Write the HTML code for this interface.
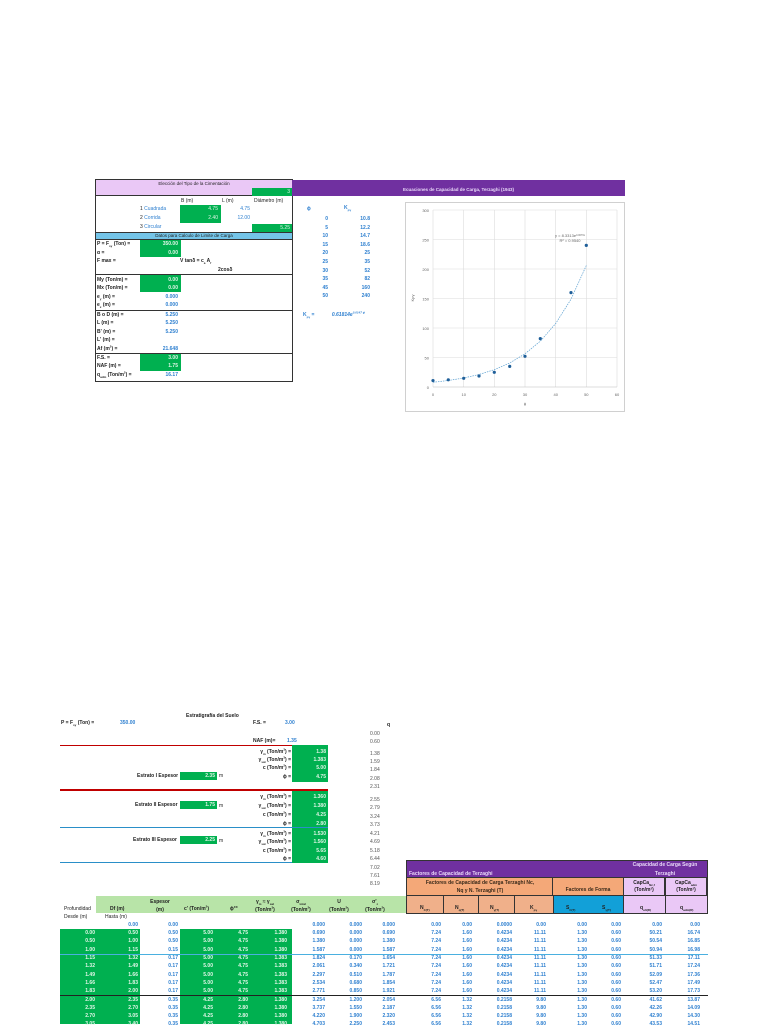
<!DOCTYPE html>
<html><head><meta charset="utf-8"><style>
*{margin:0;padding:0;box-sizing:border-box}
body{width:768px;height:1024px;background:#fff;position:relative;overflow:hidden;font-family:"Liberation Sans",sans-serif;font-size:5px;color:#222}
sub,sup{line-height:0;font-size:3px}
.a{position:absolute;white-space:nowrap}
.g{position:absolute;background:#00b050}
.b{color:#2f80d0;font-weight:bold}
.w{color:#dff5e6}
.k{font-weight:bold}
.r{position:absolute;left:0;width:768px;height:8px;font-weight:bold;color:#2f80d0;font-size:5px}
.r span{position:absolute;width:40px;text-align:right;top:0}
.r .wh{color:#e4f7ea}
.c1{left:55px}.c2{left:98px}.c3{left:138px}.c4{left:173px}.c5{left:208px}.c6{left:247px}.c7{left:285px}.c8{left:322px}.c9{left:355px}
.d1{left:401px}.d2{left:432px}.d3{left:472px}.d4{left:506px}.d5{left:547px}.d6{left:581px}.d7{left:622px}.d8{left:660px}
.ln{position:absolute;height:0}
</style></head><body>

<!-- TOP LEFT BOX -->
<div class="a" style="left:95px;top:179px;width:198px;height:203px;border:1px solid #333"></div>
<div class="a" style="left:96px;top:180px;width:196px;height:16px;background:#eac8f6;border-bottom:1px solid #333"></div>
<div class="a" style="left:95px;top:181px;width:198px;text-align:center;font-size:4.5px">Elección del Tipo de la Cimentación</div>
<div class="g" style="left:252px;top:188px;width:40px;height:8px"></div>
<div class="a w" style="left:252px;top:189px;width:38px;text-align:right">3</div>
<div class="a" style="left:292px;top:180px;width:333px;height:16px;background:#7030a0"></div>
<div class="a k" style="left:292px;top:187px;width:333px;text-align:center;color:#e8d8f8;font-size:4.5px">Ecuaciones de Capacidad de Carga, Terzaghi (1943)</div>

<div class="a" style="left:181px;top:198px">B (m)</div>
<div class="a" style="left:222px;top:198px">L (m)</div>
<div class="a" style="left:254px;top:198px">Diámetro (m)</div>
<div class="a" style="left:140px;top:206px">1 <span style="color:#2f80d0">Cuadrada</span></div>
<div class="a" style="left:140px;top:215px">2 <span style="color:#2f80d0">Corrida</span></div>
<div class="a" style="left:140px;top:224px">3 <span style="color:#2f80d0">Circular</span></div>
<div class="g" style="left:180px;top:205px;width:41px;height:18px"></div>
<div class="a w" style="left:180px;top:206px;width:38px;text-align:right">4.75</div>
<div class="a w" style="left:180px;top:215px;width:38px;text-align:right">2.40</div>
<div class="a" style="left:220px;top:206px;width:30px;text-align:right;color:#2f80d0">4.75</div>
<div class="a" style="left:220px;top:215px;width:30px;text-align:right;color:#2f80d0">12.00</div>
<div class="g" style="left:252px;top:224px;width:40px;height:8px"></div>
<div class="a w" style="left:252px;top:225px;width:38px;text-align:right">5.25</div>
<div class="a" style="left:96px;top:232px;width:196px;height:8px;background:#74c4e8;border-top:1px solid #333;border-bottom:1px solid #333"></div>
<div class="a" style="left:96px;top:233px;width:196px;text-align:center;font-size:4.5px">Datos para Calculo de Limite de Carga</div>

<div class="a k" style="left:97px;top:241px">P = F<sub>sy</sub> (Ton) =</div>
<div class="a k" style="left:97px;top:250px">α =</div>
<div class="a k" style="left:97px;top:258px">F max =</div>
<div class="g" style="left:140px;top:240px;width:41px;height:17px"></div>
<div class="a w k" style="left:140px;top:241px;width:38px;text-align:right">350.00</div>
<div class="a w k" style="left:140px;top:250px;width:38px;text-align:right">0.00</div>
<div class="a k" style="left:180px;top:258px">V tanδ = c<sub>a</sub> A<sub>f</sub></div>
<div class="a k" style="left:218px;top:267px">2cosδ</div>
<div class="a" style="left:95px;top:274px;width:198px;border-top:1px solid #333"></div>
<div class="g" style="left:140px;top:275px;width:41px;height:17px"></div>
<div class="a k" style="left:97px;top:277px">My (Ton/m) =</div>
<div class="a k" style="left:97px;top:285px">Mx (Ton/m) =</div>
<div class="a w k" style="left:140px;top:277px;width:38px;text-align:right">0.00</div>
<div class="a w k" style="left:140px;top:285px;width:38px;text-align:right">0.00</div>
<div class="a k" style="left:97px;top:294px">e<sub>y</sub> (m) =</div>
<div class="a k" style="left:97px;top:302px">e<sub>x</sub> (m) =</div>
<div class="a b" style="left:140px;top:294px;width:38px;text-align:right">0.000</div>
<div class="a b" style="left:140px;top:302px;width:38px;text-align:right">0.000</div>
<div class="a" style="left:95px;top:310px;width:198px;border-top:1px solid #333"></div>
<div class="a k" style="left:97px;top:312px">B o D (m) =</div>
<div class="a k" style="left:97px;top:320px">L (m) =</div>
<div class="a k" style="left:97px;top:329px">B' (m) =</div>
<div class="a k" style="left:97px;top:337px">L' (m) =</div>
<div class="a k" style="left:97px;top:346px">Af (m<sup>2</sup>) =</div>
<div class="a b" style="left:140px;top:312px;width:38px;text-align:right">5.250</div>
<div class="a b" style="left:140px;top:320px;width:38px;text-align:right">5.250</div>
<div class="a b" style="left:140px;top:329px;width:38px;text-align:right">5.250</div>
<div class="a b" style="left:140px;top:346px;width:38px;text-align:right">21.648</div>
<div class="a" style="left:95px;top:353px;width:198px;border-top:1px solid #333"></div>
<div class="g" style="left:140px;top:354px;width:41px;height:17px"></div>
<div class="a k" style="left:97px;top:355px">F.S. =</div>
<div class="a k" style="left:97px;top:363px">NAF (m) =</div>
<div class="a k" style="left:97px;top:372px">q<sub>adm</sub> (Ton/m<sup>2</sup>) =</div>
<div class="a w k" style="left:140px;top:355px;width:38px;text-align:right">3.00</div>
<div class="a w k" style="left:140px;top:363px;width:38px;text-align:right">1.75</div>
<div class="a b" style="left:140px;top:372px;width:38px;text-align:right">16.17</div>

<!-- phi / Kp table -->
<div class="a b" style="left:307px;top:206px">ϕ</div>
<div class="a b" style="left:344px;top:205px">K<sub>pγ</sub></div>
<div class="a b" style="left:300px;top:215px;width:28px;line-height:8.6px;text-align:right">0<br>5<br>10<br>15<br>20<br>25<br>30<br>35<br>45<br>50</div>
<div class="a b" style="left:330px;top:215px;width:40px;line-height:8.6px;text-align:right">10.8<br>12.2<br>14.7<br>18.6<br>25<br>35<br>52<br>82<br>160<br>240</div>
<div class="a b" style="left:303px;top:312px">K<sub>pγ</sub> =</div>
<div class="a b" style="left:315px;top:312px;width:50px;text-align:right;font-style:italic">0.61814e<sup>0.0147 ϕ</sup></div>

<!-- Chart -->
<svg class="a" style="left:405px;top:202px" width="220" height="211" viewBox="405 202 220 211">
<rect x="405.5" y="202.5" width="219" height="209" fill="#fff" stroke="#d0d0d0"/>
<g stroke="#dcdcdc" stroke-width="0.6">
<line x1="433" y1="210" x2="433" y2="387"/><line x1="463.7" y1="210" x2="463.7" y2="387"/><line x1="494.3" y1="210" x2="494.3" y2="387"/><line x1="525" y1="210" x2="525" y2="387"/><line x1="555.7" y1="210" x2="555.7" y2="387"/><line x1="586.3" y1="210" x2="586.3" y2="387"/><line x1="617" y1="210" x2="617" y2="387"/>
<line x1="433" y1="210" x2="617" y2="210"/><line x1="433" y1="239.5" x2="617" y2="239.5"/><line x1="433" y1="269" x2="617" y2="269"/><line x1="433" y1="298.5" x2="617" y2="298.5"/><line x1="433" y1="328" x2="617" y2="328"/><line x1="433" y1="357.5" x2="617" y2="357.5"/>
</g>
<line x1="433" y1="387" x2="617" y2="387" stroke="#bbb" stroke-width="0.6"/>
<g font-size="4" fill="#666" text-anchor="end" font-family="Liberation Sans">
<text x="429" y="389">0</text><text x="429" y="359.5">50</text><text x="429" y="330">100</text><text x="429" y="300.5">150</text><text x="429" y="271">200</text><text x="429" y="241.5">250</text><text x="429" y="212">300</text>
</g>
<g font-size="4" fill="#666" text-anchor="middle" font-family="Liberation Sans">
<text x="433" y="396">0</text><text x="463.7" y="396">10</text><text x="494.3" y="396">20</text><text x="525" y="396">30</text><text x="555.7" y="396">40</text><text x="586.3" y="396">50</text><text x="617" y="396">60</text>
<text x="525" y="405">ϕ</text>
<text x="414" y="298" transform="rotate(-90 414 298)">Kpγ</text>
<text x="570" y="237">y = 8.3313e<tspan font-size="2.5" dy="-1">0.0676x</tspan></text>
<text x="570" y="242">R² = 0.9540</text>
</g>
<polyline fill="none" stroke="#5a9fd0" stroke-width="0.7" stroke-dasharray="1.5,1" points="433,382.3 448.3,380.5 463.7,378 479,374.5 494.3,369.7 509.7,363 525,353.8 540.3,341.2 555.7,323.5 571,299.2 586.3,265.5"/>
<g fill="#1f5f99">
<circle cx="433" cy="380.6" r="1.6"/><circle cx="448.3" cy="379.8" r="1.6"/><circle cx="463.7" cy="378.3" r="1.6"/><circle cx="479" cy="376" r="1.6"/><circle cx="494.3" cy="372.3" r="1.6"/><circle cx="509.7" cy="366.4" r="1.6"/><circle cx="525" cy="356.3" r="1.6"/><circle cx="540.3" cy="338.6" r="1.6"/><circle cx="571" cy="292.6" r="1.6"/><circle cx="586.3" cy="245.4" r="1.6"/>
</g>
</svg>

<!-- BOTTOM: Estratigrafia -->
<div class="a k" style="left:186px;top:713px">Estratigrafía del Suelo</div>
<div class="a k" style="left:61px;top:720px">P = F<sub>sy</sub> (Ton) =</div>
<div class="a b" style="left:120px;top:720px">350.00</div>
<div class="a k" style="left:253px;top:720px">F.S. =</div>
<div class="a b" style="left:285px;top:720px">3.00</div>
<div class="a k" style="left:387px;top:722px">q</div>
<div class="a k" style="left:253px;top:738px">NAF (m)=</div>
<div class="a b" style="left:287px;top:738px">1.35</div>
<div class="a" style="left:370px;top:730px;line-height:8.1px;color:#555">0.00<br>0.60</div>
<div class="a" style="left:370px;top:750px;line-height:8.2px;color:#555">1.38<br>1.59<br>1.84<br>2.08<br>2.31</div>
<div class="a" style="left:370px;top:796px;line-height:8.3px;color:#555">2.55<br>2.79<br>3.24<br>3.73</div>
<div class="a" style="left:370px;top:830px;line-height:8.4px;color:#555">4.21<br>4.69<br>5.18<br>6.44<br>7.02<br>7.61<br>8.19</div>

<div class="ln" style="left:60px;top:745px;width:268px;border-top:1px solid #c00000"></div>
<div class="g" style="left:292px;top:745px;width:36px;height:37px"></div>
<div class="a k" style="left:230px;top:748px;width:61px;text-align:right;line-height:8.2px">γ<sub>m</sub> (Ton/m<sup>3</sup>) =<br>γ<sub>sat</sub> (Ton/m<sup>3</sup>) =<br>c (Ton/m<sup>2</sup>) =<br>ϕ =</div>
<div class="a w k" style="left:292px;top:748px;width:34px;text-align:right;line-height:8.2px">1.38<br>1.383<br>5.00<br>4.75</div>
<div class="a k" style="left:137px;top:773px">Estrato I Espesor</div>
<div class="g" style="left:180px;top:772px;width:37px;height:8px"></div>
<div class="a w k" style="left:180px;top:773px;width:35px;text-align:right">2.35</div>
<div class="a" style="left:219px;top:773px">m</div>

<div class="ln" style="left:60px;top:789px;width:268px;border-top:2px solid #c00000"></div>
<div class="g" style="left:292px;top:791px;width:36px;height:37px"></div>
<div class="a k" style="left:230px;top:793px;width:61px;text-align:right;line-height:9px">γ<sub>m</sub> (Ton/m<sup>3</sup>) =<br>γ<sub>sat</sub> (Ton/m<sup>3</sup>) =<br>c (Ton/m<sup>2</sup>) =<br>ϕ =</div>
<div class="a w k" style="left:292px;top:793px;width:34px;text-align:right;line-height:9px">1.360<br>1.380<br>4.25<br>2.80</div>
<div class="a k" style="left:135px;top:802px">Estrato II Espesor</div>
<div class="g" style="left:180px;top:801px;width:37px;height:8px"></div>
<div class="a w k" style="left:180px;top:802px;width:35px;text-align:right">1.75</div>
<div class="a" style="left:219px;top:803px">m</div>

<div class="ln" style="left:60px;top:827px;width:268px;border-top:1px solid #2a8fc8"></div>
<div class="g" style="left:292px;top:828px;width:36px;height:35px"></div>
<div class="a k" style="left:230px;top:830px;width:61px;text-align:right;line-height:8.4px">γ<sub>m</sub> (Ton/m<sup>3</sup>) =<br>γ<sub>sat</sub> (Ton/m<sup>3</sup>) =<br>c (Ton/m<sup>2</sup>) =<br>ϕ =</div>
<div class="a w k" style="left:292px;top:830px;width:34px;text-align:right;line-height:8.4px">1.530<br>1.560<br>5.65<br>4.60</div>
<div class="a k" style="left:133px;top:837px">Estrato III Espesor</div>
<div class="g" style="left:180px;top:836px;width:37px;height:8px"></div>
<div class="a w k" style="left:180px;top:837px;width:35px;text-align:right">2.25</div>
<div class="a" style="left:219px;top:838px">m</div>
<div class="ln" style="left:60px;top:862px;width:232px;border-top:1px solid #2a8fc8"></div>

<!-- Headers right -->
<div class="a" style="left:406px;top:860px;width:302px;height:54px;border:1px solid #333;background:#7030a0"></div>
<div class="a k" style="left:409px;top:871px;color:#e8d8f8">Factores de Capacidad de Terzaghi</div>
<div class="a k" style="left:623px;top:861px;width:84px;text-align:center;color:#e8d8f8;line-height:9px">Capacidad de Carga Según<br>Terzaghi</div>
<div class="a" style="left:407px;top:877px;width:146px;height:19px;background:#f4a878;border-right:1px solid #333;border-top:1px solid #333"></div>
<div class="a k" style="left:407px;top:879px;width:146px;text-align:center;line-height:8px;color:#3a2a1a">Factores de Capacidad de Carga Terzaghi Nc,<br>Nq y N. Terzaghi (T)</div>
<div class="a" style="left:553px;top:877px;width:70px;height:19px;background:#f4a878;border-top:1px solid #333"></div>
<div class="a k" style="left:553px;top:887px;width:70px;text-align:center;color:#3a2a1a">Factores de Forma</div>
<div class="a" style="left:623px;top:877px;width:42px;height:19px;background:#eac8f6;border:1px solid #333"></div>
<div class="a" style="left:665px;top:877px;width:42px;height:19px;background:#eac8f6;border:1px solid #333"></div>
<div class="a k" style="left:623px;top:880px;width:42px;text-align:center;line-height:7px">CapCa<sub>Nc,f</sub><br>(Ton/m²)</div>
<div class="a k" style="left:665px;top:880px;width:42px;text-align:center;line-height:7px">CapCa<sub>adm</sub><br>(Ton/m²)</div>
<div class="a" style="left:407px;top:896px;width:146px;height:17px;background:#f0b08a"></div>
<div class="a" style="left:443px;top:896px;height:17px;border-left:1px solid #333"></div>
<div class="a" style="left:478px;top:896px;height:17px;border-left:1px solid #333"></div>
<div class="a" style="left:514px;top:896px;height:17px;border-left:1px solid #333"></div>
<div class="a" style="left:553px;top:896px;width:70px;height:17px;background:#12a0d8;border-left:1px solid #333"></div>
<div class="a" style="left:623px;top:896px;width:42px;height:17px;background:#eac8f6;border-left:1px solid #333"></div>
<div class="a" style="left:665px;top:896px;width:42px;height:17px;background:#eac8f6;border-left:1px solid #333"></div>
<div class="a" style="left:406px;top:895px;width:302px;border-top:1px solid #333"></div>
<div class="a k" style="left:420px;top:905px">N<sub>C(T)</sub></div>
<div class="a k" style="left:455px;top:905px">N<sub>q(T)</sub></div>
<div class="a k" style="left:490px;top:905px">N<sub>γ(T)</sub></div>
<div class="a k" style="left:530px;top:905px">K<sub>pγ</sub></div>
<div class="a k" style="left:566px;top:905px">S<sub>C(T)</sub></div>
<div class="a k" style="left:602px;top:905px">S<sub>γ(T)</sub></div>
<div class="a k" style="left:640px;top:905px">q<sub>ult(R)</sub></div>
<div class="a k" style="left:680px;top:905px">q<sub>adm(R)</sub></div>

<!-- Left headers -->
<div class="a" style="left:96px;top:896px;width:310px;height:17px;background:#b8e4a8"></div>
<div class="a" style="left:64px;top:906px">Profundidad</div>
<div class="a" style="left:64px;top:914px">Desde (m)</div>
<div class="a k" style="left:110px;top:906px">Df (m)</div>
<div class="a" style="left:105px;top:914px">Hasta (m)</div>
<div class="a k" style="left:150px;top:898px;width:20px;text-align:center;line-height:8px">Espesor<br>(m)</div>
<div class="a k" style="left:184px;top:906px">c' (Ton/m<sup>2</sup>)</div>
<div class="a k" style="left:230px;top:906px">ϕ°°</div>
<div class="a k" style="left:250px;top:898px;width:30px;text-align:center;line-height:8px">γ<sub>m</sub> ≈ γ<sub>sat</sub><br>(Ton/m<sup>3</sup>)</div>
<div class="a k" style="left:286px;top:898px;width:30px;text-align:center;line-height:8px">σ<sub>total</sub><br>(Ton/m<sup>2</sup>)</div>
<div class="a k" style="left:324px;top:898px;width:30px;text-align:center;line-height:8px">U<br>(Ton/m<sup>2</sup>)</div>
<div class="a k" style="left:360px;top:898px;width:30px;text-align:center;line-height:8px">σ'<sub>z</sub><br>(Ton/m<sup>2</sup>)</div>

<!-- green fills for data -->
<div class="g" style="left:60px;top:929px;width:80px;height:95px"></div>
<div class="g" style="left:180px;top:929px;width:112px;height:95px"></div>
<div class="ln" style="left:60px;top:954px;width:648px;border-top:1px solid #4ab0e0"></div>
<div class="ln" style="left:60px;top:995px;width:648px;border-top:1px solid #222"></div>

<div class="r" style="top:922px"><span class="c2">0.00</span><span class="c3">0.00</span><span class="c7">0.000</span><span class="c8">0.000</span><span class="c9">0.000</span><span class="d1">0.00</span><span class="d2">0.00</span><span class="d3">0.0000</span><span class="d4">0.00</span><span class="d5">0.00</span><span class="d6">0.00</span><span class="d7">0.00</span><span class="d8">0.00</span></div>
<div class="r" style="top:930px"><span class="c1 wh">0.00</span><span class="c2 wh">0.50</span><span class="c3">0.50</span><span class="c4 wh">5.00</span><span class="c5 wh">4.75</span><span class="c6 wh">1.380</span><span class="c7">0.690</span><span class="c8">0.000</span><span class="c9">0.690</span><span class="d1">7.24</span><span class="d2">1.60</span><span class="d3">0.4234</span><span class="d4">11.11</span><span class="d5">1.30</span><span class="d6">0.60</span><span class="d7">50.21</span><span class="d8">16.74</span></div>
<div class="r" style="top:938px"><span class="c1 wh">0.50</span><span class="c2 wh">1.00</span><span class="c3">0.50</span><span class="c4 wh">5.00</span><span class="c5 wh">4.75</span><span class="c6 wh">1.380</span><span class="c7">1.380</span><span class="c8">0.000</span><span class="c9">1.380</span><span class="d1">7.24</span><span class="d2">1.60</span><span class="d3">0.4234</span><span class="d4">11.11</span><span class="d5">1.30</span><span class="d6">0.60</span><span class="d7">50.54</span><span class="d8">16.85</span></div>
<div class="r" style="top:947px"><span class="c1 wh">1.00</span><span class="c2 wh">1.15</span><span class="c3">0.15</span><span class="c4 wh">5.00</span><span class="c5 wh">4.75</span><span class="c6 wh">1.380</span><span class="c7">1.587</span><span class="c8">0.000</span><span class="c9">1.587</span><span class="d1">7.24</span><span class="d2">1.60</span><span class="d3">0.4234</span><span class="d4">11.11</span><span class="d5">1.30</span><span class="d6">0.60</span><span class="d7">50.94</span><span class="d8">16.98</span></div>
<div class="r" style="top:955px"><span class="c1 wh">1.15</span><span class="c2 wh">1.32</span><span class="c3">0.17</span><span class="c4 wh">5.00</span><span class="c5 wh">4.75</span><span class="c6 wh">1.383</span><span class="c7">1.824</span><span class="c8">0.170</span><span class="c9">1.654</span><span class="d1">7.24</span><span class="d2">1.60</span><span class="d3">0.4234</span><span class="d4">11.11</span><span class="d5">1.30</span><span class="d6">0.60</span><span class="d7">51.33</span><span class="d8">17.11</span></div>
<div class="r" style="top:963px"><span class="c1 wh">1.32</span><span class="c2 wh">1.49</span><span class="c3">0.17</span><span class="c4 wh">5.00</span><span class="c5 wh">4.75</span><span class="c6 wh">1.383</span><span class="c7">2.061</span><span class="c8">0.340</span><span class="c9">1.721</span><span class="d1">7.24</span><span class="d2">1.60</span><span class="d3">0.4234</span><span class="d4">11.11</span><span class="d5">1.30</span><span class="d6">0.60</span><span class="d7">51.71</span><span class="d8">17.24</span></div>
<div class="r" style="top:972px"><span class="c1 wh">1.49</span><span class="c2 wh">1.66</span><span class="c3">0.17</span><span class="c4 wh">5.00</span><span class="c5 wh">4.75</span><span class="c6 wh">1.383</span><span class="c7">2.297</span><span class="c8">0.510</span><span class="c9">1.787</span><span class="d1">7.24</span><span class="d2">1.60</span><span class="d3">0.4234</span><span class="d4">11.11</span><span class="d5">1.30</span><span class="d6">0.60</span><span class="d7">52.09</span><span class="d8">17.36</span></div>
<div class="r" style="top:980px"><span class="c1 wh">1.66</span><span class="c2 wh">1.83</span><span class="c3">0.17</span><span class="c4 wh">5.00</span><span class="c5 wh">4.75</span><span class="c6 wh">1.383</span><span class="c7">2.534</span><span class="c8">0.680</span><span class="c9">1.854</span><span class="d1">7.24</span><span class="d2">1.60</span><span class="d3">0.4234</span><span class="d4">11.11</span><span class="d5">1.30</span><span class="d6">0.60</span><span class="d7">52.47</span><span class="d8">17.49</span></div>
<div class="r" style="top:988px"><span class="c1 wh">1.83</span><span class="c2 wh">2.00</span><span class="c3">0.17</span><span class="c4 wh">5.00</span><span class="c5 wh">4.75</span><span class="c6 wh">1.383</span><span class="c7">2.771</span><span class="c8">0.850</span><span class="c9">1.921</span><span class="d1">7.24</span><span class="d2">1.60</span><span class="d3">0.4234</span><span class="d4">11.11</span><span class="d5">1.30</span><span class="d6">0.60</span><span class="d7">53.20</span><span class="d8">17.73</span></div>
<div class="r" style="top:997px"><span class="c1 wh">2.00</span><span class="c2 wh">2.35</span><span class="c3">0.35</span><span class="c4 wh">4.25</span><span class="c5 wh">2.80</span><span class="c6 wh">1.380</span><span class="c7">3.254</span><span class="c8">1.200</span><span class="c9">2.054</span><span class="d1">6.56</span><span class="d2">1.32</span><span class="d3">0.2158</span><span class="d4">9.80</span><span class="d5">1.30</span><span class="d6">0.60</span><span class="d7">41.62</span><span class="d8">13.87</span></div>
<div class="r" style="top:1005px"><span class="c1 wh">2.35</span><span class="c2 wh">2.70</span><span class="c3">0.35</span><span class="c4 wh">4.25</span><span class="c5 wh">2.80</span><span class="c6 wh">1.380</span><span class="c7">3.737</span><span class="c8">1.550</span><span class="c9">2.187</span><span class="d1">6.56</span><span class="d2">1.32</span><span class="d3">0.2158</span><span class="d4">9.80</span><span class="d5">1.30</span><span class="d6">0.60</span><span class="d7">42.26</span><span class="d8">14.09</span></div>
<div class="r" style="top:1013px"><span class="c1 wh">2.70</span><span class="c2 wh">3.05</span><span class="c3">0.35</span><span class="c4 wh">4.25</span><span class="c5 wh">2.80</span><span class="c6 wh">1.380</span><span class="c7">4.220</span><span class="c8">1.900</span><span class="c9">2.320</span><span class="d1">6.56</span><span class="d2">1.32</span><span class="d3">0.2158</span><span class="d4">9.80</span><span class="d5">1.30</span><span class="d6">0.60</span><span class="d7">42.90</span><span class="d8">14.30</span></div>
<div class="r" style="top:1021px"><span class="c1 wh">3.05</span><span class="c2 wh">3.40</span><span class="c3">0.35</span><span class="c4 wh">4.25</span><span class="c5 wh">2.80</span><span class="c6 wh">1.380</span><span class="c7">4.703</span><span class="c8">2.250</span><span class="c9">2.453</span><span class="d1">6.56</span><span class="d2">1.32</span><span class="d3">0.2158</span><span class="d4">9.80</span><span class="d5">1.30</span><span class="d6">0.60</span><span class="d7">43.53</span><span class="d8">14.51</span></div>

</body></html>
